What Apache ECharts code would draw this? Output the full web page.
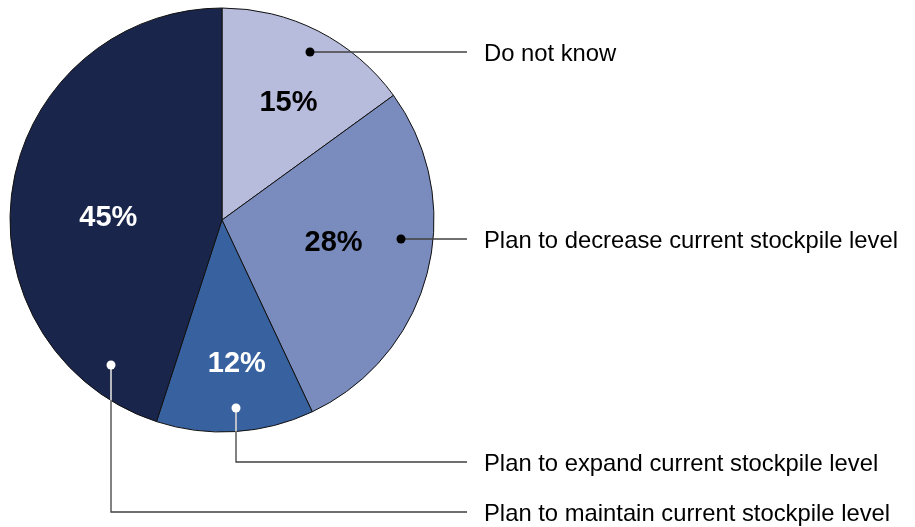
<!DOCTYPE html>
<html><head><meta charset="utf-8">
<script src="https://cdn.jsdelivr.net/npm/echarts@6/dist/echarts.min.js"></script>
<style>html,body{margin:0;padding:0;background:#fff}#c{width:915px;height:527px}</style>
</head><body><div id="c"></div>
<script>
const categories = ['Do not know','Plan to decrease current stockpile level','Plan to expand current stockpile level','Plan to maintain current stockpile level'];
const values = [15, 28, 12, 45];
const sliceColors = ['#b8bcdc', '#7a8bbd', '#38619f', '#19254a'];
const pctColors = ['#000', '#000', '#fff', '#fff'];
const dotColors = ['#000', '#000', '#fff', '#fff'];
// label nudges (style)
const pctOffsets = [[17,-20],[6,-4],[8,35],[-6,15]];
// annotation layout (style): dot position, label line y
const CX = 222, CY = 220, R = 212, LINE_END = 467, TEXT_X = 484;
const annot = [
  {dot:[310,52], y:52, white:false},
  {dot:[401,239], y:239, white:false},
  {dot:[236,408], y:462, white:true},
  {dot:[111,365], y:512, white:true}
];

const chart = echarts.init(document.getElementById('c'), null, {renderer:'canvas'});
const graphics = [];
annot.forEach((a, i) => {
  const [dx, dy] = a.dot;
  let pts;
  if (Math.abs(dy - a.y) < 1) pts = [[dx, dy], [LINE_END, a.y]];
  else pts = [[dx, dy], [dx, a.y], [LINE_END, a.y]];
  graphics.push({type:'polyline', shape:{points:pts}, style:{stroke:'#404040', lineWidth:1.3, fill:null}, z:100});
  if (a.white) {
    const yb = CY + Math.sqrt(R*R - (dx-CX)*(dx-CX));
    graphics.push({type:'line', shape:{x1:dx, y1:dy, x2:dx, y2:yb}, style:{stroke:'#fff', lineWidth:1.3}, z:101});
  }
  graphics.push({type:'circle', shape:{cx:dx, cy:dy, r:4.5}, style:{fill:dotColors[i]}, z:102});
  graphics.push({type:'text', x:TEXT_X, y:a.y + 2, style:{text:categories[i], font:'23.8px "Liberation Sans", Arial, sans-serif', fill:'#000', verticalAlign:'middle', align:'left'}, z:102});
});

chart.setOption({
  animation:false,
  graphic: graphics,
  series:[{
    type:'pie',
    center:[CX, CY],
    radius:[0, R],
    startAngle:90,
    clockwise:true,
    avoidLabelOverlap:false,
    itemStyle:{borderColor:'#111', borderWidth:1},
    label:{show:true, position:'inside', formatter:'{c}%', fontSize:29, fontWeight:'bold', fontFamily:'"Liberation Sans", Arial, sans-serif'},
    labelLine:{show:false},
    emphasis:{disabled:true},
    data: values.map((v, i) => ({name:categories[i], value:v, itemStyle:{color:sliceColors[i]}, label:{color:pctColors[i], offset:pctOffsets[i]}}))
  }]
});
</script></body></html>
